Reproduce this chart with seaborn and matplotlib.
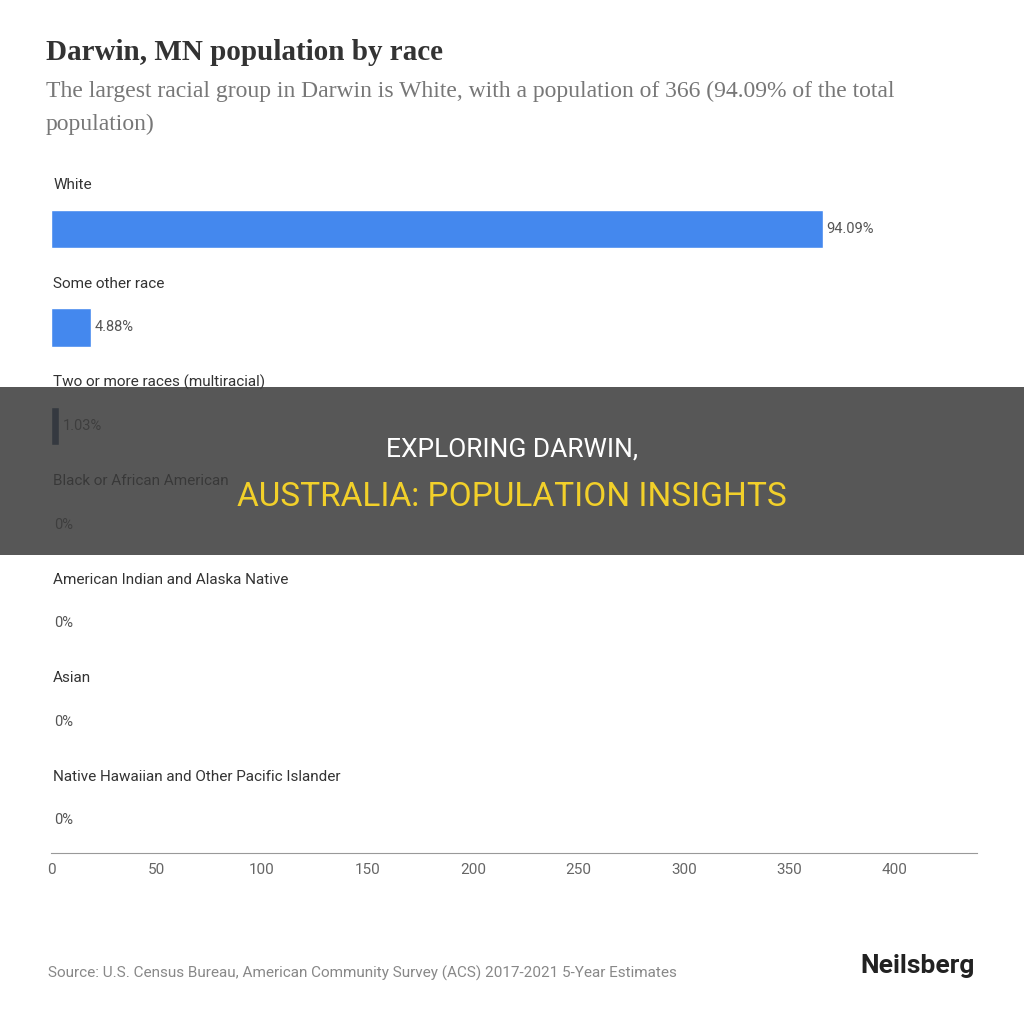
import matplotlib.pyplot as plt
import pandas as pd
import seaborn as sns

races = ["White", "Some other race", "Two or more races (multiracial)",
         "Black or African American", "American Indian and Alaska Native",
         "Asian", "Native Hawaiian and Other Pacific Islander"]
population = [366, 19, 4, 0, 0, 0, 0]
shares = ["94.09%", "4.88%", "1.03%", "0%", "0%", "0%", "0%"]
bar_colors = ["#4488ee", "#4488ee", "#1b3563", "#4488ee", "#4488ee", "#4488ee", "#4488ee"]
ticks = [0, 50, 100, 150, 200, 250, 300, 350, 400]

df = pd.DataFrame({"race": races, "population": population})

sns.set_style("white")
plt.rcParams["font.family"] = ["Roboto", "DejaVu Sans"]
fig = plt.figure(figsize=(10.24, 10.24), dpi=100)
ax = fig.add_axes([51 / 1024, 1 - 853 / 1024, 926 / 1024, (853 - 150) / 1024])

sns.barplot(data=df, x="population", y="race", hue="race", palette=bar_colors,
            orient="h", width=0.39, legend=False, saturation=1, ax=ax)
ax.set_xlim(0, 439)
ax.set_ylim(6.33, -0.8)
for i, (name, val, pct) in enumerate(zip(races, population, shares)):
    ax.text(1, i - 0.44, name, fontsize=11, color="#333333", va="center")
    ax.text(val + 1.5, i, pct, fontsize=10.5, color="#555555", va="center")

ax.set_yticks([])
ax.set_xticks(ticks)
ax.tick_params(axis="x", labelsize=11, colors="#666666", length=4)
for s in ("top", "right", "left"):
    ax.spines[s].set_visible(False)
ax.spines["bottom"].set_color("#999999")
ax.set_xlabel("")
ax.set_ylabel("")

fig.text(46 / 1024, 1 - 52 / 1024, "Darwin, MN population by race", fontsize=21,
         fontweight="bold", color="#333333", va="center", family=["Liberation Serif", "DejaVu Serif"])
fig.text(46 / 1024, 1 - 108 / 1024,
         "The largest racial group in Darwin is White, with a population of 366 (94.09% of the total\npopulation)",
         fontsize=17, color="#777777", va="center", linespacing=1.75,
         family=["Liberation Serif", "DejaVu Serif"])
fig.text(48 / 1024, 1 - 973 / 1024,
         "Source: U.S. Census Bureau, American Community Survey (ACS) 2017-2021 5-Year Estimates",
         fontsize=11, color="#888888", va="center")
fig.text(975 / 1024, 1 - 966 / 1024, "Neilsberg", fontsize=19, fontweight="bold",
         color="#222222", ha="right", va="center")

# overlay banner
fig.patches.append(plt.Rectangle((0, 1 - 555 / 1024), 1, 168 / 1024, linewidth=0,
                                 transform=fig.transFigure, facecolor="#3a3a3a", alpha=0.85))
fig.text(0.5, 1 - 449 / 1024, "EXPLORING DARWIN,", fontsize=19, color="white",
         ha="center", va="center")
fig.text(0.5, 1 - 497 / 1024, "AUSTRALIA: POPULATION INSIGHTS", fontsize=24,
         color="#f2d02a", ha="center", va="center")

fig.savefig("out.png", dpi=100)
